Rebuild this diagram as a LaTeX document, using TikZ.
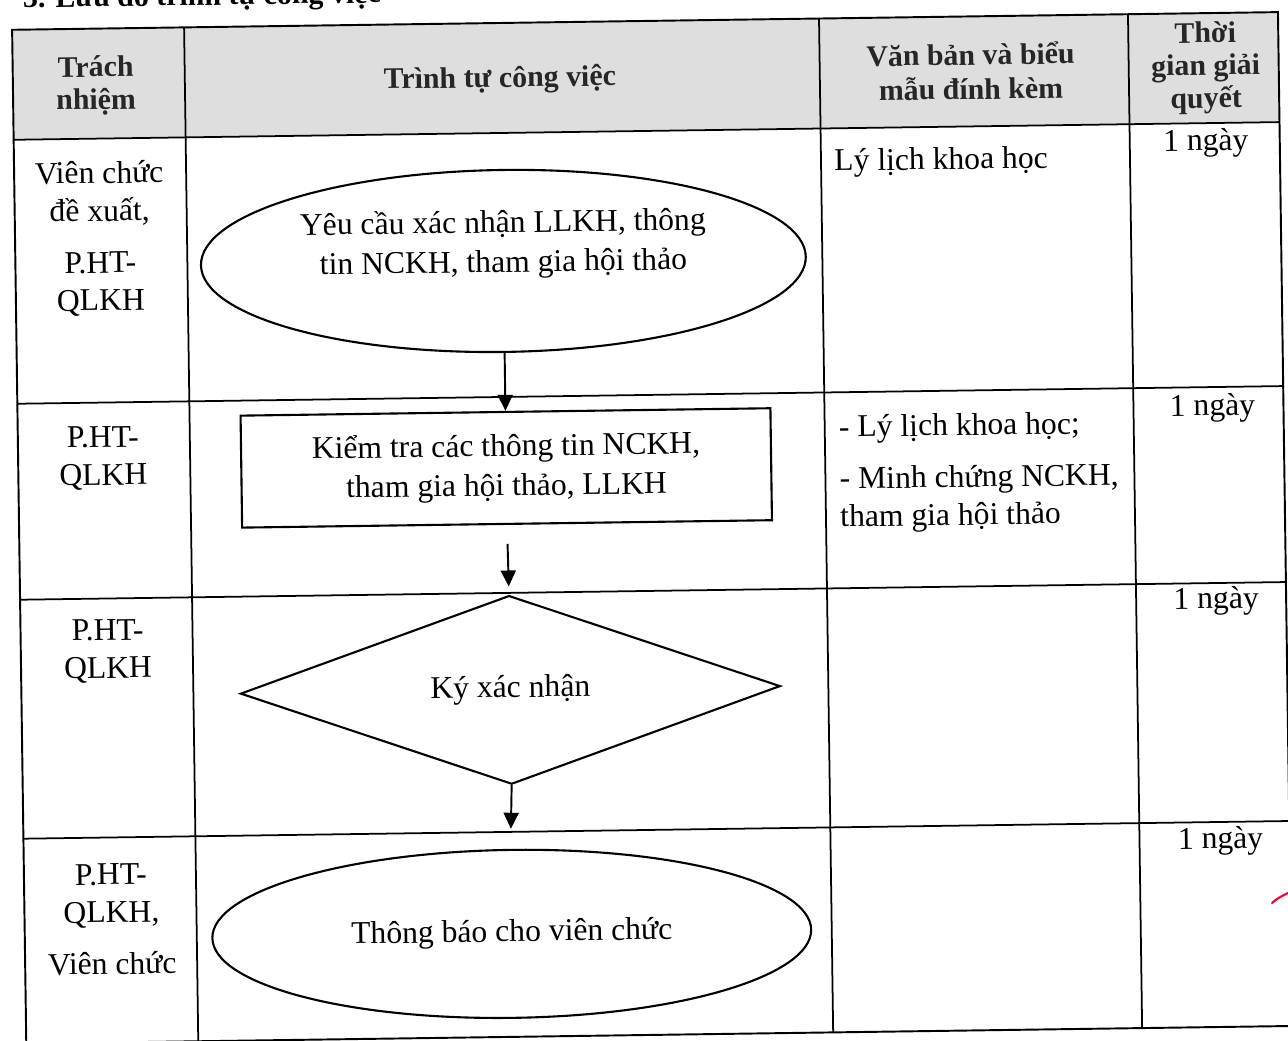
\documentclass[tikz,border=0pt]{standalone}
\usepackage{fontspec}
\setmainfont{Liberation Serif}
\usetikzlibrary{positioning}
\usetikzlibrary{shapes.geometric}
\usetikzlibrary{arrows.meta}

\tikzset{
  cell/.style={align=center,inner sep=0pt,font=\fontsize{18}{21.5}\selectfont},
  cellleft/.style={align=left,anchor=west,inner sep=0pt,font=\fontsize{18}{21.5}\selectfont},
  headcell/.style={align=center,inner sep=0pt,font=\fontsize{17}{18.5}\selectfont\bfseries,text=black!85},
  stepbox/.style={draw,line width=1.2pt,inner sep=0pt,font=\fontsize{18}{22.5}\selectfont,align=center},
  flow/.style={line width=1.1pt,-{Triangle[length=0.32cm,width=0.3cm]}}
}

\begin{document}
\begin{tikzpicture}[x=0.02cm,y=-0.02cm]
 \useasboundingbox (0,0) rectangle (1288,1041);
 \fill[white] (0,0) rectangle (1288,1041);
 \begin{scope}[rotate around={0.8:(644,520)},transform shape]
 \node[anchor=base west,inner sep=0pt,font=\fontsize{17}{21}\selectfont\bfseries] (title) at (30,-1) {3. Lưu đồ trình tự công việc};
 \fill[black!13] (19,21) rectangle (1285,131);
 \draw[line width=1.1pt] (19,21) rectangle (1285,1035);
 \foreach \x in {191,826,1135} \draw[line width=1pt] (\x,21) -- (\x,1035);
 \foreach \y in {131,395,591,830} \draw[line width=1pt] (19,\y) -- (1285,\y);

 \node[headcell] (hresp) at (102,78) {Trách\\nhiệm};
 \node[headcell] (hstep) at (506,78) {Trình tự công việc};
 \node[headcell,font=\fontsize{17}{19.5}\selectfont\bfseries] (hdoc) at (977,76) {Văn bản và biểu\\mẫu đính kèm};
 \node[headcell,font=\fontsize{17}{18.5}\selectfont\bfseries] (htime) at (1212,76) {Thời\\gian giải\\quyết};

 \node[cell] (resp1) at (104,231) {Viên chức\\đề xuất,\\[8pt]P.HT-\\QLKH};
 \node[cell] (resp2) at (104,451) {P.HT-\\QLKH};
 \node[cell] (resp3) at (106,644) {P.HT-\\QLKH};
 \node[cell] (resp4) at (106,912) {P.HT-\\QLKH,\\[8pt]Viên chức};

 \node[stepbox,ellipse,minimum width=12.1cm,minimum height=3.64cm] (step1) at (507,259)
   {\raisebox{0.18cm}[0pt][0pt]{\begin{tabular}{@{}c@{}}Yêu cầu xác nhận LLKH, thông\\tin NCKH, tham gia hội thảo\end{tabular}}};
 \node[stepbox,rectangle,minimum width=10.6cm,minimum height=2.24cm] (step2) at (507,466) {Kiểm tra các thông tin NCKH,\\tham gia hội thảo, LLKH};
 \node[stepbox,diamond,minimum width=10.8cm,minimum height=3.16cm] (step3) at (508,688) {Ký xác nhận};
 \node[stepbox,ellipse,minimum width=11.98cm,minimum height=3.36cm] (step4) at (506,932) {Thông báo cho viên chức};

 \draw[flow] (step1.south) -- (step2.north);
 \draw[flow,shorten <=0.38cm,shorten >=0.16cm] (step2.south) -- (step3.north);
 \draw[flow,shorten >=0.4cm] (step3.south) -- (step4.north);

 \node[cellleft] (doc1) at (839,166) {Lý lịch khoa học};
 \node[cellleft] (doc2) at (840,477) {- Lý lịch khoa học;\\[8pt]- Minh chứng NCKH,\\tham gia hội thảo};

 \node[cell] (time1) at (1211,151) {1 ngày};
 \node[cell] (time2) at (1214,416) {1 ngày};
 \node[cell] (time3) at (1215,609) {1 ngày};
 \node[cell] (time4) at (1216,849) {1 ngày};
 \end{scope}
 \draw[red!80!magenta,line width=1.2pt,line cap=round] (1272,903) .. controls (1278,898) .. (1288,893);
\end{tikzpicture}
\end{document}
